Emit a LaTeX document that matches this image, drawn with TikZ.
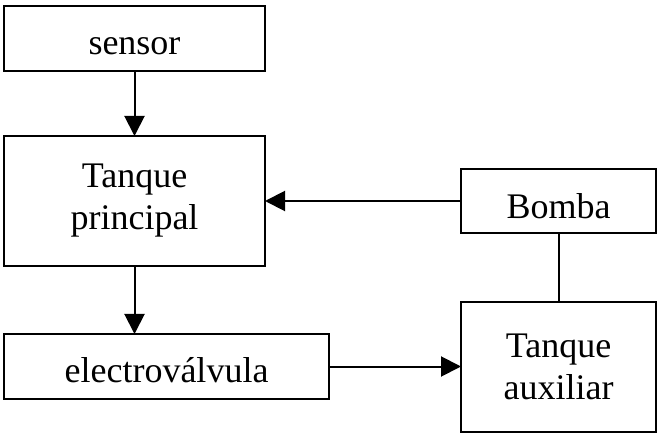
\documentclass[tikz,border=0pt]{standalone}
\usepackage{fontspec}
\setmainfont{Liberation Serif}
\usetikzlibrary{arrows.meta}
\begin{document}
\begin{tikzpicture}[x=1pt,y=-1pt,
  blk/.style={draw,line width=2pt,rectangle,outer sep=0pt,inner sep=0pt,align=center,
    font=\fontsize{36}{42}\selectfont},
  one/.style={text height=32pt,text depth=0pt},
  arr/.style={line width=2pt,-{Triangle[length=20pt,width=20pt]}},
  ln/.style={line width=2pt}]
\useasboundingbox (0,0) rectangle (657,433);
\node[blk,one,minimum width=261pt,minimum height=65pt] (sensor) at (134.5,38.5) {sensor};
\node[blk,minimum width=261pt,minimum height=130pt] (tp) at (134.5,201) {Tanque\\principal};
\node[blk,one,minimum width=325pt,minimum height=65pt] (ev) at (166.5,366.5) {electroválvula};
\node[blk,one,text height=36pt,minimum width=195pt,minimum height=64pt] (bomba) at (558.5,201) {Bomba};
\node[blk,minimum width=195pt,minimum height=130pt] (ta) at (558.5,367) {Tanque\\auxiliar};
\draw[arr] (sensor.south) -- (tp.north);
\draw[arr] (tp.south) -- (tp.south |- ev.north);
\draw[arr] (bomba.west) -- (tp.east);
\draw[arr] (ev.east) -- (ev.east -| ta.west);
\draw[ln] (bomba.south) -- (ta.north);
\end{tikzpicture}
\end{document}
